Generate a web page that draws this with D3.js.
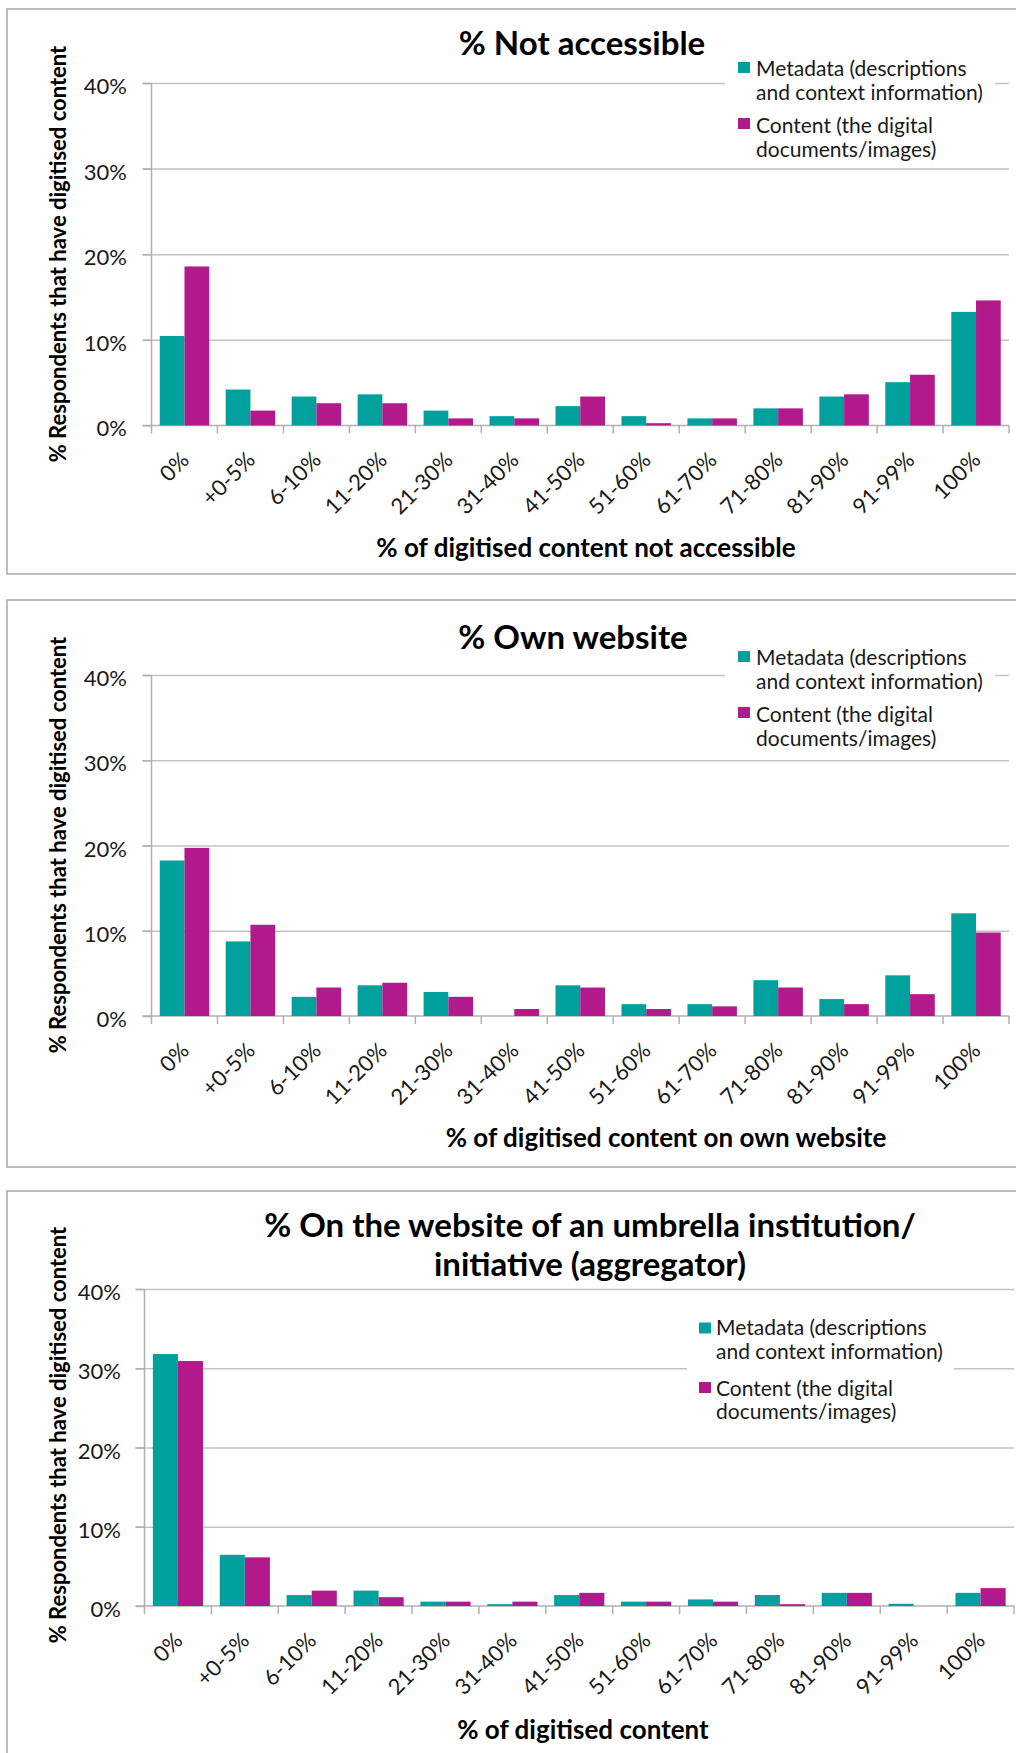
<!DOCTYPE html>
<html>
<head>
<meta charset="utf-8">
<script src="https://cdn.jsdelivr.net/npm/d3@7"></script>
<style>
  html, body { margin: 0; padding: 0; background: #fff; }
  svg { display: block; font-family: Lato, "Open Sans", sans-serif; }
</style>
</head>
<body>
<svg id="chart" width="1016" height="1753"></svg>
<script>
// ---------- data ----------
const categories = ["0%", "+0-5%", "6-10%", "11-20%", "21-30%", "31-40%", "41-50%",
                    "51-60%", "61-70%", "71-80%", "81-90%", "91-99%", "100%"];
const seriesNames = ["Metadata (descriptions and context information)",
                     "Content (the digital documents/images)"];
const legendLines = [["Metadata (descriptions", "and context information)"],
                     ["Content (the digital", "documents/images)"]];
const yTicks = [0, 10, 20, 30, 40];

const notAccessibleMetadata = [10.45, 4.19, 3.37, 3.63, 1.73, 1.08, 2.25, 1.08, 0.82, 1.99, 3.37, 5.05, 13.26];
const notAccessibleContent  = [18.57, 1.73, 2.59, 2.59, 0.82, 0.82, 3.37, 0.26, 0.82, 1.99, 3.63, 5.92, 14.60];
const ownWebsiteMetadata    = [18.24, 8.75, 2.25, 3.60, 2.82, 0.00, 3.60, 1.39, 1.39, 4.20, 1.99, 4.77, 12.05];
const ownWebsiteContent     = [19.72, 10.70, 3.34, 3.90, 2.25, 0.82, 3.34, 0.82, 1.13, 3.34, 1.39, 2.56, 9.79];
const aggregatorMetadata    = [31.79, 6.46, 1.38, 1.94, 0.55, 0.23, 1.38, 0.55, 0.83, 1.38, 1.66, 0.28, 1.66];
const aggregatorContent     = [30.91, 6.14, 1.94, 1.11, 0.55, 0.55, 1.66, 0.55, 0.55, 0.23, 1.66, 0.00, 2.26];

const titles = [["% Not accessible"], ["% Own website"],
                ["% On the website of an umbrella institution/", "initiative (aggregator)"]];
const xTitles = ["% of digitised content not accessible",
                 "% of digitised content on own website",
                 "% of digitised content"];
const yTitle = "% Respondents that have digitised content";

// ---------- layout (page pixels) ----------
const colors = ["#00A19D", "#B2198B"];
const panels = [
  { meta: notAccessibleMetadata, content: notAccessibleContent,
    box: [7, 9, 1030, 574], x0: 151.5, x1: 1009, yTop: 83, yBase: 425.4,
    titleX: 582, titleY: [55], xTitleX: 586, xTitleY: 557, yTitleY: 254, yLabelEnd: 127,
    legend: { box: [725, 55, 995, 166], sq: 738, tx: 756, lines: [76, 100, 133, 157], sqY: [62, 118] } },
  { meta: ownWebsiteMetadata, content: ownWebsiteContent,
    box: [7, 600, 1030, 1167], x0: 151.5, x1: 1009, yTop: 675, yBase: 1016,
    titleX: 573, titleY: [649], xTitleX: 666, xTitleY: 1147, yTitleY: 845, yLabelEnd: 127,
    legend: { box: [725, 645, 995, 755], sq: 738, tx: 756, lines: [665, 689, 722, 746], sqY: [651, 707] } },
  { meta: aggregatorMetadata, content: aggregatorContent,
    box: [7, 1191, 1030, 1770], x0: 144.5, x1: 1014, yTop: 1289, yBase: 1606,
    titleX: 590, titleY: [1237, 1276], xTitleX: 583, xTitleY: 1739, yTitleY: 1435, yLabelEnd: 121,
    legend: { box: [687, 1312, 954, 1430], sq: 699, tx: 716, lines: [1335, 1359, 1396, 1419], sqY: [1322.5, 1382] } }
];

const svg = d3.select("#chart");
svg.append("rect").attr("width", 1016).attr("height", 1753).attr("fill", "#fff");

panels.forEach((p, pi) => {
  const g = svg.append("g");
  // panel border
  g.append("rect")
    .attr("x", p.box[0]).attr("y", p.box[1])
    .attr("width", p.box[2] - p.box[0]).attr("height", p.box[3] - p.box[1])
    .attr("fill", "#fff").attr("stroke", "#a6a6a6").attr("stroke-width", 1.5);

  const x = d3.scaleBand().domain(categories).range([p.x0, p.x1])
    .paddingInner(0.25).paddingOuter(0.125);
  const xs = d3.scaleBand().domain([0, 1]).range([0, x.bandwidth()]);
  const y = d3.scaleLinear().domain([0, 40]).range([p.yBase, p.yTop]);

  // gridlines
  const grid = d3.axisLeft(y).tickValues(yTicks.filter(t => t > 0))
    .tickSize(-(p.x1 - p.x0 + 9)).tickFormat("");
  g.append("g").attr("transform", `translate(${p.x0 - 9},0)`)
    .call(grid)
    .call(s => s.select(".domain").remove())
    .call(s => s.selectAll("line").attr("stroke", "#c3c3c3").attr("stroke-width", 1.5));

  // y axis with labels
  const yAxis = d3.axisLeft(y).tickValues(yTicks).tickSize(9)
    .tickPadding(p.x0 - 9 - p.yLabelEnd).tickFormat(d => d + "%");
  const ya = g.append("g").attr("transform", `translate(${p.x0},0)`).call(yAxis);
  ya.select(".domain").attr("stroke", "#b0b0b0").attr("stroke-width", 1.5)
    .attr("d", `M0,${p.yTop}V${p.yBase}`);
  ya.selectAll(".tick line").attr("stroke", "#b0b0b0").attr("stroke-width", 1.5);
  ya.selectAll(".tick text").attr("font-family", "Lato").attr("font-size", 22)
    .attr("fill", "#1a1a1a").attr("dy", "0.48em");

  // x baseline + boundary ticks
  const xa = d3.axisBottom(x).tickSize(0).tickFormat("");
  const xg = g.append("g").attr("transform", `translate(0,${p.yBase})`).call(xa);
  xg.select(".domain").attr("stroke", "#b0b0b0").attr("stroke-width", 1.5)
    .attr("d", `M${p.x0 - 9},0H${p.x1}`);
  xg.selectAll(".tick").remove();
  const bounds = categories.map(c => x(c) - (x.step() - x.bandwidth()) / 2).concat([p.x1]);
  xg.selectAll("line.bt").data(bounds).join("line").attr("class", "bt")
    .attr("x1", d => d).attr("x2", d => d).attr("y1", 0).attr("y2", 8)
    .attr("stroke", "#b0b0b0").attr("stroke-width", 1.5);

  // bars
  const series = [p.meta, p.content];
  series.forEach((vals, si) => {
    g.append("g").selectAll("rect").data(vals).join("rect")
      .attr("x", (d, i) => x(categories[i]) + xs(si))
      .attr("width", xs.bandwidth())
      .attr("y", d => y(d))
      .attr("height", d => y(0) - y(d))
      .attr("fill", colors[si]);
  });

  // category labels
  g.append("g").selectAll("text").data(categories).join("text")
    .attr("transform", d => `translate(${x(d) + x.bandwidth() / 2 + 6},${p.yBase + 36}) rotate(-45)`)
    .attr("text-anchor", "end").attr("font-size", 22).attr("fill", "#1a1a1a")
    .text(d => d);

  // titles
  titles[pi].forEach((t, li) => {
    g.append("text").attr("x", p.titleX).attr("y", p.titleY[li])
      .attr("text-anchor", "middle").attr("font-size", 33).attr("font-weight", 700)
      .attr("fill", "#000").text(t);
  });
  g.append("text").attr("x", p.xTitleX).attr("y", p.xTitleY)
    .attr("text-anchor", "middle").attr("font-size", 26).attr("font-weight", 700)
    .attr("fill", "#000").text(xTitles[pi]);
  g.append("text")
    .attr("transform", `translate(57.5,${p.yTitleY}) rotate(-90)`)
    .attr("text-anchor", "middle").attr("dominant-baseline", "central")
    .attr("font-size", 22).attr("font-weight", 700).attr("fill", "#000").text(yTitle);

  // legend
  const L = p.legend;
  g.append("rect").attr("x", L.box[0]).attr("y", L.box[1])
    .attr("width", L.box[2] - L.box[0]).attr("height", L.box[3] - L.box[1]).attr("fill", "#fff");
  seriesNames.forEach((name, si) => {
    g.append("rect").attr("x", L.sq).attr("y", L.sqY[si]).attr("width", 12).attr("height", 11)
      .attr("fill", colors[si]);
    legendLines[si].forEach((ln, li) => {
      g.append("text").attr("x", L.tx).attr("y", L.lines[si * 2 + li])
        .attr("font-size", 21).attr("fill", "#1a1a1a").text(ln);
    });
  });
});
</script>
</body>
</html>
